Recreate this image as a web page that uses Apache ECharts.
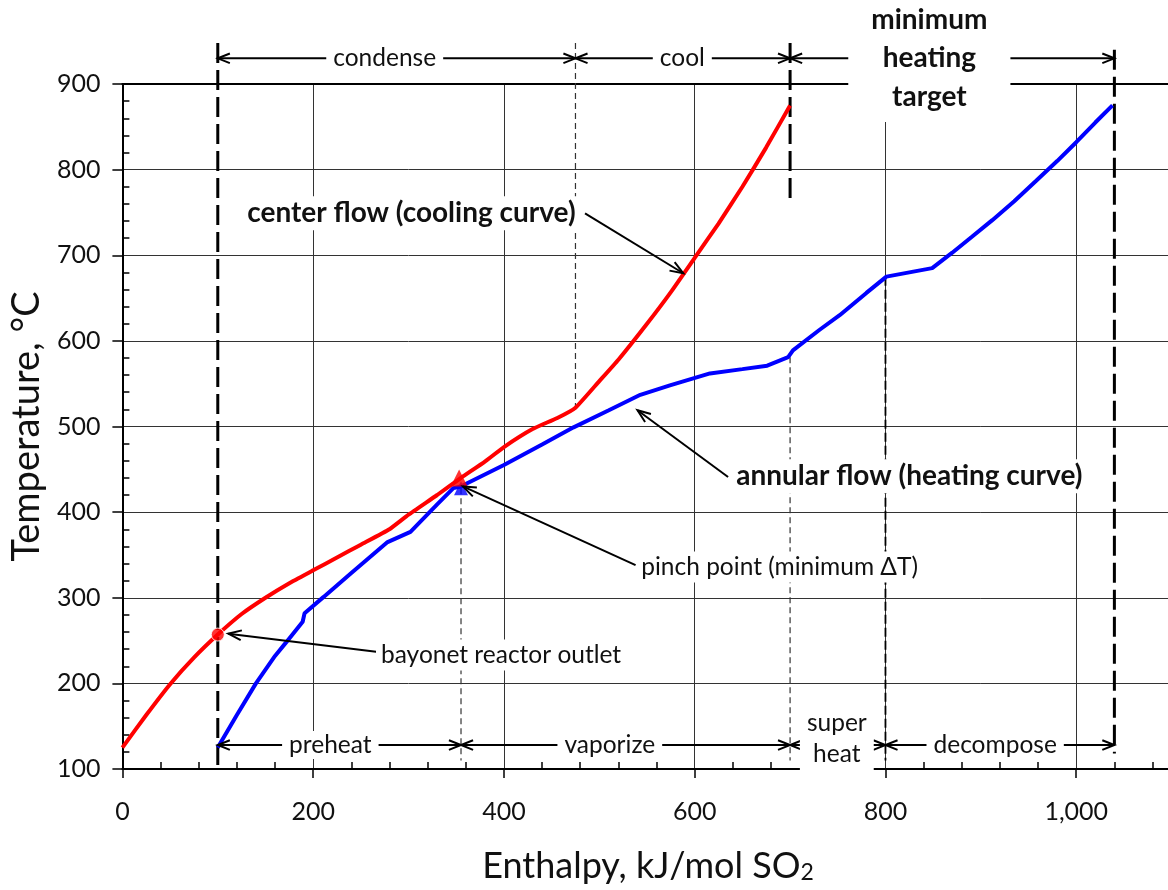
<!DOCTYPE html>
<html>
<head>
<meta charset="utf-8">
<script src="https://cdn.jsdelivr.net/npm/echarts@6/dist/echarts.min.js"></script>
<style>
  html, body { margin: 0; padding: 0; background: #fff; overflow: hidden; }
  #main { width: 1270px; height: 890px; }
</style>
</head>
<body>
<div id="main"></div>
<script>
// enthalpy / temperature curves
var coolH = [0, 25, 50, 75, 100, 125, 150, 175, 200, 225, 250, 280, 300, 330, 355, 380, 400, 430, 456, 475, 500, 520, 550, 575, 600, 625, 650, 675, 700];
var coolT = [125, 163, 199, 230, 257, 281, 300, 317, 332, 347, 362, 380, 397, 420, 440, 459, 476, 497, 510, 522, 553, 578, 620, 657, 697, 737, 780, 826, 875];

var heatH = [100, 120, 140, 160, 171, 189, 191, 211, 240, 278, 302, 330, 347, 355, 362, 400, 440, 473, 510, 543, 574, 616, 650, 676, 698, 703, 731, 752, 780, 801, 849, 870, 890, 912, 935, 958, 980, 1000, 1020, 1038];
var heatT = [125, 163, 200, 232, 247, 272, 282, 301, 329, 365, 377, 409, 428, 430, 434, 455, 479, 499, 519, 537, 548, 562, 567, 571, 581, 589, 613, 630, 656, 675, 685, 703, 721, 741, 763, 787, 810, 832, 855, 875];

// marked points
var outletPoint = [100, 257];
var pinchHot = [353, 440];
var pinchCold = [355, 428];

// vertical guide lines: [enthalpy, top temp, bottom temp]
var heavyDash = [[100, 948, 100], [700, 948, 767], [1040, 940, 118]];
var thinDash = [[475, 948, 522], [355, 428, 110], [700, 581, 110]];
var mediumDash = [[800, 675, 110]];

// stage brackets: [from, to, level, label x, label y]
var bracketSpans = [
    [100, 475, 930, 275, 930],
    [475, 700, 930, 587, 930],
    [700, 1040, 930, 846, 930],
    [100, 355, 128, 218, 128],
    [355, 700, 128, 511, 128],
    [700, 800, 128, 749, 135],
    [800, 1040, 128, 915, 128]
];
var bracketLabels = ['condense', 'cool', 'minimum\nheating\ntarget', 'preheat', 'vaporize', 'super\nheat', 'decompose'];

// callouts: arrow [from x, from y, to x, to y], text position
var noteArrows = [[485, 749, 588, 679], [635, 441, 540, 519], [538, 338, 357, 430], [266, 237, 111, 258]];
var notePos = [[303, 749], [825, 442], [689, 336], [397, 233]];
var noteText = ['center flow (cooling curve)', 'annular flow (heating curve)', 'pinch point (minimum ΔT)', 'bayonet reactor outlet'];
var noteBold = [true, true, false, false];

var FONT = 'Lato, "Open Sans", sans-serif';

var myChart = echarts.init(document.getElementById('main'));

function pairs(xs, ys) {
    return xs.map(function (x, i) { return [x, ys[i]]; });
}

// V-shaped open arrow head at tip, coming from "from"
function arrowHead(tip, from, len, ang) {
    var dx = tip[0] - from[0], dy = tip[1] - from[1];
    var d = Math.sqrt(dx * dx + dy * dy) || 1;
    dx /= d; dy /= d;
    function rot(a) {
        var c = Math.cos(a), s = Math.sin(a);
        return [tip[0] - len * (dx * c - dy * s), tip[1] - len * (dx * s + dy * c)];
    }
    return {
        type: 'polyline',
        shape: { points: [rot(ang), tip, rot(-ang)] },
        style: { stroke: '#000', lineWidth: 2, fill: null }
    };
}

function verticalSeries(data, style, z) {
    return {
        type: 'custom',
        data: data,
        z: z,
        encode: { x: 0, y: 1 },
        renderItem: function (params, api) {
            var x = api.value(0);
            var p1 = api.coord([x, api.value(1)]);
            var p2 = api.coord([x, api.value(2)]);
            return {
                type: 'line',
                shape: { x1: p1[0], y1: p1[1], x2: p2[0], y2: p2[1] },
                style: Object.assign({ stroke: '#000', fill: null }, style)
            };
        }
    };
}

var option = {
    animation: false,
    backgroundColor: '#fff',
    grid: { left: 121, right: 2, top: 84, bottom: 121 },
    // x axis title sits under the visible 0..1100 span
    graphic: [{
        type: 'text',
        x: 648, y: 861,
        style: {
            text: '{a|Enthalpy, kJ/mol SO}{b|2}',
            align: 'center', verticalAlign: 'middle',
            rich: {
                a: { fontFamily: FONT, fontSize: 36, fill: '#111', lineHeight: 46, verticalAlign: 'bottom' },
                b: { fontFamily: FONT, fontSize: 23, fill: '#111', lineHeight: 46, verticalAlign: 'bottom', padding: [13, 0, 0, 0] }
            }
        }
    }],
    xAxis: [
        {
            type: 'value', min: 0, max: 1200, interval: 200, position: 'bottom',
            axisLine: { lineStyle: { color: '#000', width: 2 } },
            axisTick: { length: 9, lineStyle: { color: '#000', width: 1.5 } },
            axisLabel: {
                margin: 30, fontSize: 25, fontFamily: FONT, color: '#111',
                formatter: function (v) { return v > 1000 ? '' : v.toLocaleString('en-US'); }
            },
            splitLine: { show: true, lineStyle: { color: '#333', width: 1 } }
        },
        {
            type: 'value', min: 0, max: 1200, interval: 200, position: 'bottom',
            axisLine: { show: false },
            axisTick: { show: false, inside: true },
            minorTick: { show: true, splitNumber: 5, length: 7, lineStyle: { color: '#000', width: 1.5 } },
            axisLabel: { show: false },
            splitLine: { show: false }
        },
        {
            type: 'value', min: 0, max: 1200, interval: 200, position: 'top',
            axisLine: { lineStyle: { color: '#000', width: 2 } },
            axisTick: { show: false },
            axisLabel: { show: false },
            splitLine: { show: false }
        }
    ],
    yAxis: [
        {
            type: 'value', min: 100, max: 900, interval: 100, position: 'left',
            name: 'Temperature, °C',
            nameLocation: 'middle', nameGap: 67,
            nameTextStyle: { fontFamily: FONT, fontSize: 38, color: '#111' },
            axisLine: { lineStyle: { color: '#000', width: 2 } },
            axisTick: { length: 10, lineStyle: { color: '#000', width: 1.5 } },
            axisLabel: { margin: 22, fontSize: 25, fontFamily: FONT, color: '#111' },
            splitLine: { show: true, lineStyle: { color: '#333', width: 1 } }
        },
        {
            type: 'value', min: 100, max: 900, interval: 100, position: 'left',
            axisLine: { show: false },
            axisTick: { show: false, inside: true },
            minorTick: { show: true, splitNumber: 5, length: 7, lineStyle: { color: '#000', width: 1.5 } },
            axisLabel: { show: false },
            splitLine: { show: false }
        }
    ],
    series: [
        verticalSeries(heavyDash, { lineWidth: 3, lineDash: [20, 7] }, 3),
        verticalSeries(thinDash, { lineWidth: 1.2, lineDash: [6, 4], stroke: '#333' }, 3),
        verticalSeries(mediumDash, { lineWidth: 1.8, lineDash: [9, 4] }, 3),
        {
            name: 'center flow',
            type: 'line',
            data: pairs(coolH, coolT),
            symbol: 'none',
            smooth: 0.15,
            z: 4,
            lineStyle: { color: '#ff0000', width: 4 }
        },
        {
            name: 'annular flow',
            type: 'line',
            data: pairs(heatH, heatT),
            symbol: 'none',
            z: 4,
            lineStyle: { color: '#0000ff', width: 4 }
        },
        {
            type: 'scatter',
            z: 5,
            data: [
                { value: pinchCold, symbol: 'triangle', symbolSize: 14, itemStyle: { color: '#0000ff' } },
                { value: pinchHot, symbol: 'triangle', symbolSize: 17, itemStyle: { color: '#ff0000' } },
                { value: outletPoint, symbol: 'circle', symbolSize: 13, itemStyle: { color: '#ff0000', borderColor: '#fff', borderWidth: 1 } }
            ]
        },
        {
            // stage brackets
            type: 'custom',
            z: 6,
            data: bracketSpans,
            encode: { x: 0, y: 2 },
            renderItem: function (params, api) {
                var i = params.dataIndex;
                var y = api.value(2);
                var a = api.coord([api.value(0), y]);
                var b = api.coord([api.value(1), y]);
                var t = api.coord([api.value(3), api.value(4)]);
                var big = i === 2;
                var multi = bracketLabels[i].indexOf('\n') >= 0;
                return {
                    type: 'group',
                    children: [
                        { type: 'line', shape: { x1: a[0], y1: a[1], x2: b[0], y2: b[1] }, style: { stroke: '#000', lineWidth: 2 } },
                        arrowHead(a, b, 13, 0.38),
                        arrowHead(b, a, 13, 0.38),
                        {
                            type: 'text',
                            x: t[0], y: t[1],
                            style: {
                                text: bracketLabels[i],
                                align: 'center', verticalAlign: 'middle',
                                fontFamily: FONT,
                                fontSize: big ? 28 : 24.5,
                                fontWeight: big ? 'bold' : 'normal',
                                lineHeight: big ? 38.5 : (multi ? 31 : 28),
                                fill: '#111',
                                backgroundColor: '#fff',
                                padding: big ? [6, 23] : [0, 7]
                            }
                        }
                    ]
                };
            }
        },
        {
            // callouts
            type: 'custom',
            z: 6,
            data: noteArrows,
            encode: { x: 0, y: 1 },
            renderItem: function (params, api) {
                var i = params.dataIndex;
                var s = api.coord([api.value(0), api.value(1)]);
                var e = api.coord([api.value(2), api.value(3)]);
                var t = api.coord(notePos[i]);
                return {
                    type: 'group',
                    children: [
                        { type: 'line', shape: { x1: s[0], y1: s[1], x2: e[0], y2: e[1] }, style: { stroke: '#000', lineWidth: 2 } },
                        arrowHead(e, s, 14, 0.36),
                        {
                            type: 'text',
                            x: t[0], y: t[1],
                            style: {
                                text: noteText[i],
                                align: 'center', verticalAlign: 'middle',
                                fontFamily: FONT,
                                fontSize: noteBold[i] ? 28 : 24.5,
                                fontWeight: noteBold[i] ? 'bold' : 'normal',
                                fill: '#111',
                                backgroundColor: '#fff',
                                padding: [3, 5]
                            }
                        }
                    ]
                };
            }
        }
    ]
};

myChart.setOption(option);
</script>
</body>
</html>
